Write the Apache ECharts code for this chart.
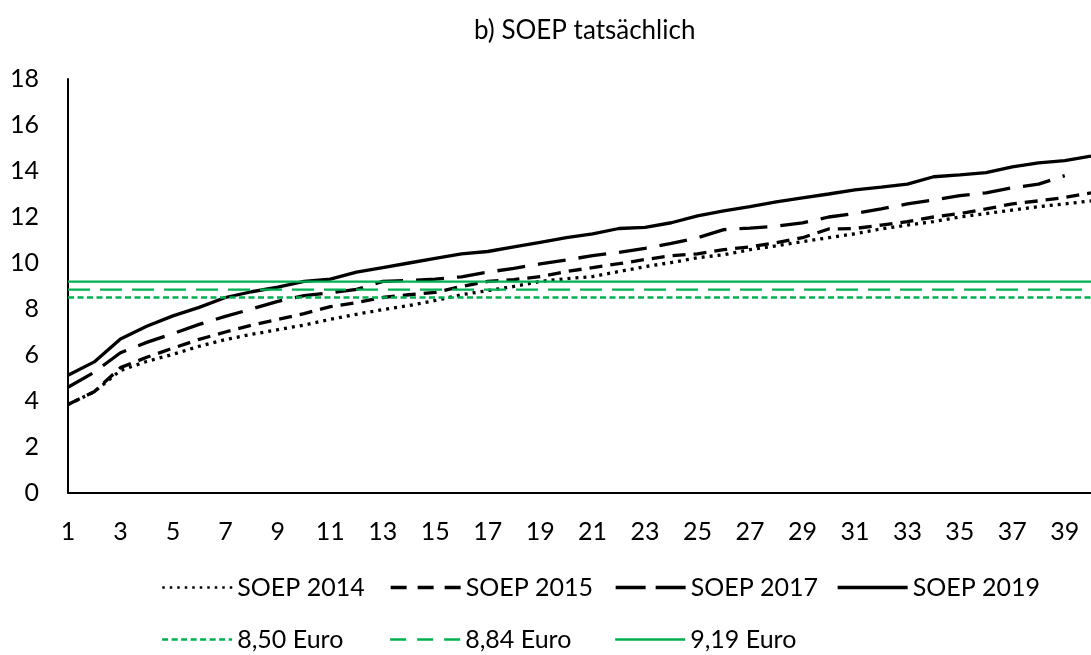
<!DOCTYPE html>
<html>
<head>
<meta charset="utf-8">
<script src="https://cdn.jsdelivr.net/npm/echarts@6/dist/echarts.min.js"></script>
<style>html,body{margin:0;padding:0;background:#fff}#c{width:1091px;height:655px}</style>
</head>
<body>
<div id="c"></div>
<script>
const categories = ["1","2","3","4","5","6","7","8","9","10","11","12","13","14","15","16","17","18","19","20","21","22","23","24","25","26","27","28","29","30","31","32","33","34","35","36","37","38","39","40"];
const soep2014 = [3.85,4.4,5.33,5.72,6.03,6.38,6.67,6.9,7.1,7.3,7.55,7.77,7.97,8.15,8.37,8.62,8.8,8.98,9.2,9.32,9.41,9.63,9.84,10.02,10.23,10.36,10.58,10.75,10.93,11.1,11.27,11.48,11.65,11.8,12.0,12.15,12.3,12.45,12.57,12.7];
const soep2015 = [3.85,4.4,5.45,5.9,6.3,6.68,7.0,7.3,7.55,7.8,8.1,8.28,8.5,8.62,8.72,8.98,9.2,9.28,9.41,9.63,9.8,9.97,10.15,10.32,10.4,10.58,10.7,10.88,11.1,11.48,11.5,11.65,11.8,12.0,12.15,12.35,12.57,12.7,12.85,13.05];
const soep2017 = [4.6,5.25,6.1,6.55,6.93,7.33,7.68,8.0,8.33,8.58,8.7,8.85,9.2,9.24,9.3,9.4,9.6,9.77,9.96,10.13,10.32,10.46,10.64,10.85,11.1,11.45,11.52,11.6,11.74,12.0,12.15,12.35,12.57,12.74,12.93,13.05,13.27,13.43,13.8,null];
const soep2019 = [5.12,5.7,6.7,7.25,7.7,8.07,8.5,8.75,8.95,9.2,9.3,9.6,9.8,10.0,10.2,10.4,10.5,10.7,10.9,11.1,11.27,11.5,11.55,11.75,12.05,12.27,12.45,12.66,12.83,13.0,13.18,13.3,13.43,13.75,13.83,13.93,14.18,14.35,14.45,14.65];
const minWageNames = ["8,50 Euro","8,84 Euro","9,19 Euro"];
const minWageValues = [8.50, 8.84, 9.19];
const yTicks = [0,2,4,6,8,10,12,14,16,18];

const FONT = 'Lato';
const GREEN = '#00B050';
const chart = echarts.init(document.getElementById('c'), null, {renderer:'canvas'});

const styles = [
  {color:'#000', width:3.3, type:[3,5]},
  {color:'#000', width:3.3, type:[13,8]},
  {color:'#000', width:3.3, type:[28,13]},
  {color:'#000', width:3.3, type:'solid'},
  {color:GREEN, width:2.3, type:[6,3.5]},
  {color:GREEN, width:2.3, type:[22,10]},
  {color:GREEN, width:2.3, type:'solid'}
];
const legendStyles = [
  {color:'#000', width:2.5, type:[2.5,5]},
  {color:'#000', width:3.3, type:[16,11]},
  {color:'#000', width:3.3, type:[30,10]},
  {color:'#000', width:3.3, type:'solid'},
  {color:GREEN, width:2.3, type:[6,3.5]},
  {color:GREEN, width:2.3, type:[16,11]},
  {color:GREEN, width:2.3, type:'solid'}
];

const seriesNames = ['SOEP 2014','SOEP 2015','SOEP 2017','SOEP 2019'].concat(minWageNames);
const seriesData = [soep2014, soep2015, soep2017, soep2019].concat(minWageValues.map(v => categories.map(() => v)));

const series = seriesNames.map((n,i)=>({
  name:n, type:'line', data:seriesData[i], symbol:'none', showSymbol:false, connectNulls:false,
  lineStyle:Object.assign({cap:'butt'}, styles[i]), itemStyle:{color:styles[i].color}
}));

const legendLefts = [161,389,614,836,161,389,614];
const legendTops = [575,575,575,575,627,627,627];
const legends = seriesNames.map((n,i)=>({
  data:[n], left:legendLefts[i], top:legendTops[i], itemWidth:70, itemHeight:14, itemGap:0, padding:0,
  selectedMode:false,
  itemStyle:{opacity:0, borderWidth:0},
  lineStyle:legendStyles[i],
  textStyle:{fontFamily:FONT, fontSize:25, color:'#000'}
}));

chart.setOption({
  animation:false,
  backgroundColor:'#fff',
  title:{text:'b) SOEP tatsächlich', left:469, top:13, textStyle:{fontFamily:FONT, fontSize:26, fontWeight:'normal', color:'#000'}},
  legend:legends,
  grid:{left:68, right:-2, top:79, bottom:162, containLabel:false},
  xAxis:{type:'category', data:categories, boundaryGap:false,
    axisLine:{show:true, lineStyle:{color:'#000', width:2}},
    axisTick:{show:false},
    axisLabel:{interval:1, margin:26, fontFamily:FONT, fontSize:25, color:'#000'},
    splitLine:{show:false}},
  yAxis:{type:'value', min:yTicks[0], max:yTicks[yTicks.length-1], interval:yTicks[1]-yTicks[0],
    axisLine:{show:true, lineStyle:{color:'#000', width:2}},
    axisTick:{show:false},
    axisLabel:{margin:29, fontFamily:FONT, fontSize:25, color:'#000'},
    splitLine:{show:false}},
  series
});
</script>
</body>
</html>
